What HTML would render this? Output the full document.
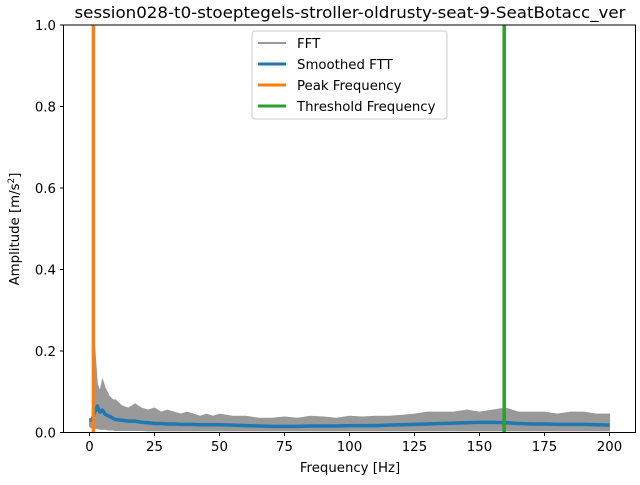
<!DOCTYPE html>
<html><head><meta charset="utf-8"><style>
body{margin:0;background:#fff;font-family:"Liberation Sans","DejaVu Sans",sans-serif}
svg text{font-family:"DejaVu Sans","Liberation Sans",sans-serif;fill:#000}
</style></head><body>
<svg id="c" width="640" height="480" viewBox="0 0 640 480">
<rect width="640" height="480" fill="#fff"/>
<g id="plot"></g>
<rect x="63.5" y="25" width="572" height="407.5" fill="none" stroke="#000" stroke-width="1"/>
<g id="axes"></g>
<text x="350" y="18" text-anchor="middle" font-size="16" textLength="551" lengthAdjust="spacingAndGlyphs">session028-t0-stoeptegels-stroller-oldrusty-seat-9-SeatBotacc_ver</text>
<text x="350" y="472" text-anchor="middle" font-size="13.3">Frequency [Hz]</text>
<text transform="translate(19,229) rotate(-90)" text-anchor="middle" font-size="13.3">Amplitude [m/s<tspan dy="-5" font-size="9">2</tspan><tspan dy="5">]</tspan></text>
<g>
<rect x="252" y="31" width="195" height="88" rx="3" fill="#fff" fill-opacity="0.8" stroke="#ccc"/>
<line x1="258" y1="43" x2="286" y2="43" stroke="#999" stroke-width="2"/>
<text x="297" y="48" font-size="13.3">FFT</text>
<line x1="258" y1="64" x2="286" y2="64" stroke="#1f77b4" stroke-width="3"/>
<text x="297" y="69" font-size="13.3">Smoothed FTT</text>
<line x1="258" y1="85" x2="286" y2="85" stroke="#ff7f0e" stroke-width="3"/>
<text x="297" y="90" font-size="13.3">Peak Frequency</text>
<line x1="258" y1="106" x2="286" y2="106" stroke="#2ca02c" stroke-width="3"/>
<text x="297" y="111" font-size="13.3">Threshold Frequency</text>
</g>
</svg>
<script>
const freqs=[0,1,2,3,4,5,6,7.5,9,10,12.5,15,17.5,20,22.5,25,27.5,30,32.5,35,37.5,40,42.5,45,47.5,50,55,60,65,70,75,80,85,90,95,100,105,110,115,120,125,130,135,140,145,150,155,160,165,170,175,180,185,190,195,200];
const upperAmp=[0.03,0.03,0.21,0.12,0.1,0.13,0.11,0.09,0.08,0.08,0.065,0.06,0.07,0.06,0.055,0.06,0.05,0.055,0.05,0.045,0.05,0.045,0.04,0.045,0.04,0.045,0.04,0.04,0.035,0.035,0.038,0.035,0.04,0.038,0.035,0.04,0.038,0.04,0.04,0.042,0.045,0.05,0.05,0.05,0.055,0.05,0.055,0.06,0.05,0.05,0.05,0.045,0.05,0.05,0.045,0.045];
const lowerAmp=[0.015,0.01,0.01,0.01,0.008,0.008,0.008,0.006,0.006,0.005,0.005,0.005,0.005,0.005,0.004,0.004,0.004,0.004,0.004,0.004,0.004,0.004,0.004,0.004,0.004,0.004,0.004,0.004,0.004,0.004,0.004,0.004,0.004,0.004,0.004,0.004,0.004,0.004,0.004,0.004,0.004,0.004,0.004,0.004,0.004,0.004,0.004,0.004,0.004,0.004,0.004,0.004,0.004,0.004,0.004,0.004];
const smoothAmp=[0.03,0.032,0.05,0.065,0.05,0.055,0.045,0.04,0.035,0.032,0.03,0.028,0.028,0.025,0.024,0.022,0.022,0.021,0.021,0.02,0.02,0.02,0.019,0.019,0.019,0.019,0.018,0.017,0.016,0.015,0.015,0.015,0.016,0.016,0.016,0.017,0.017,0.017,0.018,0.019,0.02,0.021,0.022,0.023,0.024,0.025,0.025,0.024,0.022,0.021,0.021,0.02,0.02,0.02,0.019,0.018];
const peakFreq=[1.5];
const thresholdFreq=[159.5];
const xTicks=[0,25,50,75,100,125,150,175,200];
const yTicks=[0,0.2,0.4,0.6,0.8,1.0];
const yTickLabels=["0.0","0.2","0.4","0.6","0.8","1.0"];
const NS='http://www.w3.org/2000/svg';
const xs=f=>63.5+(f+10)*572/220;
const ys=a=>432.5-a*407.5;
function mk(t,a,p){const e=document.createElementNS(NS,t);for(const k in a)e.setAttribute(k,a[k]);p.appendChild(e);return e;}
const plot=document.getElementById('plot'),axes=document.getElementById('axes');
let pts=freqs.map((f,i)=>xs(f)+','+ys(upperAmp[i]));
for(let i=freqs.length-1;i>=0;i--)pts.push(xs(freqs[i])+','+ys(lowerAmp[i]));
const band=mk('polygon',{points:pts.join(' '),fill:'#999',stroke:'#999','stroke-width':1},plot);


const sm=mk('polyline',{points:freqs.map((f,i)=>xs(f)+','+ys(smoothAmp[i])).join(' '),fill:'none',stroke:'#1f77b4','stroke-width':3.5,'stroke-linejoin':'round'},plot);


peakFreq.forEach(f=>{const l=mk('line',{x1:xs(f),x2:xs(f),y1:25,y2:432.5,stroke:'#ff7f0e','stroke-width':3.5},plot);

});
thresholdFreq.forEach(f=>{const l=mk('line',{x1:xs(f),x2:xs(f),y1:25,y2:432.5,stroke:'#2ca02c','stroke-width':3.5},plot);

});
xTicks.forEach(t=>{mk('line',{x1:xs(t),x2:xs(t),y1:432.5,y2:436,stroke:'#000'},axes);
const tx=mk('text',{x:xs(t),y:451,'text-anchor':'middle','font-size':13.3},axes);tx.textContent=t;

});
yTicks.forEach((t,i)=>{mk('line',{x1:60,x2:63.5,y1:ys(t),y2:ys(t),stroke:'#000'},axes);
const tx=mk('text',{x:56,y:ys(t)+5,'text-anchor':'end','font-size':13.3},axes);tx.textContent=yTickLabels[i];

});
</script>
</body></html>
